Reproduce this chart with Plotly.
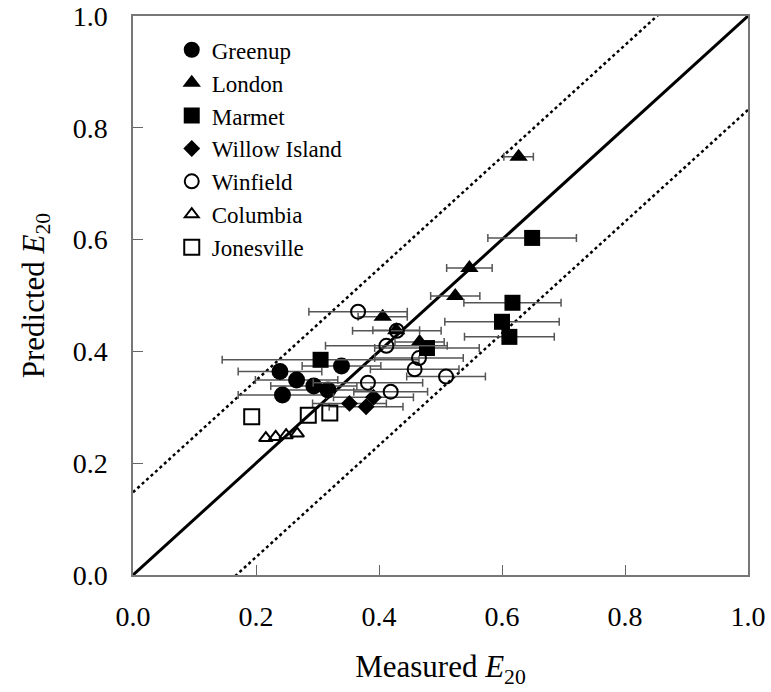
import plotly.graph_objects as go

# ---- data ----
greenup_x = [0.239, 0.266, 0.243, 0.294, 0.317, 0.339]
greenup_y = [0.364, 0.349, 0.322, 0.338, 0.331, 0.374]
greenup_err = [0.068, 0.067, 0.072, 0.070, 0.070, 0.064]

london_x = [0.406, 0.428, 0.466, 0.524, 0.547, 0.627]
london_y = [0.462, 0.438, 0.417, 0.499, 0.549, 0.748]
london_err = [0.040, 0.038, 0.040, 0.040, 0.037, 0.024]

marmet_x = [0.305, 0.478, 0.600, 0.612, 0.617, 0.649]
marmet_y = [0.385, 0.406, 0.453, 0.426, 0.487, 0.603]
marmet_err = [0.160, 0.085, 0.093, 0.073, 0.079, 0.072]

willow_x = [0.352, 0.379, 0.391]
willow_y = [0.307, 0.301, 0.318]
willow_err = [0.060, 0.060, 0.065]

winfield_x = [0.366, 0.429, 0.412, 0.465, 0.458, 0.382, 0.419, 0.509]
winfield_y = [0.471, 0.437, 0.410, 0.388, 0.368, 0.344, 0.328, 0.355]
winfield_err = [0.080, 0.072, 0.099, 0.072, 0.072, 0.089, 0.060, 0.064]

columbia_x = [0.216, 0.232, 0.249, 0.267]
columbia_y = [0.245, 0.247, 0.250, 0.253]

jonesville_x = [0.193, 0.285, 0.320]
jonesville_y = [0.283, 0.286, 0.290]

line_x = [0.0, 1.0]
upper_offset = 0.148
lower_offset = -0.168

tick_vals = [0.0, 0.2, 0.4, 0.6, 0.8, 1.0]
tick_text = ["0.0", "0.2", "0.4", "0.6", "0.8", "1.0"]

FONT = "Liberation Serif"
ERR_COLOR = "#555555"

fig = go.Figure()

# reference lines
fig.add_trace(go.Scatter(x=line_x, y=[v + upper_offset for v in line_x], mode="lines",
                         line=dict(color="black", width=2.5, dash="dot"), showlegend=False, hoverinfo="skip"))
fig.add_trace(go.Scatter(x=line_x, y=[v + lower_offset for v in line_x], mode="lines",
                         line=dict(color="black", width=2.5, dash="dot"), showlegend=False, hoverinfo="skip"))
fig.add_trace(go.Scatter(x=line_x, y=line_x, mode="lines",
                         line=dict(color="black", width=3), showlegend=False, hoverinfo="skip"))


def err(vals):
    return dict(type="data", array=vals, visible=True, color=ERR_COLOR, thickness=1.5, width=4)


series = [
    ("Greenup", greenup_x, greenup_y, greenup_err, "circle", 17, 0),
    ("London", london_x, london_y, london_err, "triangle-up", 16, 0),
    ("Marmet", marmet_x, marmet_y, marmet_err, "square", 16, 0),
    ("Willow Island", willow_x, willow_y, willow_err, "diamond", 13, 0),
    ("Winfield", winfield_x, winfield_y, winfield_err, "circle-open", 14, 2),
    ("Columbia", columbia_x, columbia_y, None, "triangle-up-open", 12, 2),
    ("Jonesville", jonesville_x, jonesville_y, None, "square-open", 15, 2),
]

for name, xs, ys, e, sym, size, lw in series:
    fig.add_trace(go.Scatter(
        x=xs, y=ys, mode="markers", name=name,
        marker=dict(symbol=sym, size=size, color="black", line=dict(color="black", width=lw)),
        error_x=err(e) if e is not None else None,
    ))

axis_common = dict(
    range=[0, 1], tickvals=tick_vals, ticktext=tick_text,
    ticks="inside", ticklen=10, tickwidth=1.2, tickcolor="#666666",
    showline=True, linecolor="#777777", linewidth=1.5, mirror=True,
    showgrid=False, zeroline=False, automargin=False,
    tickfont=dict(family=FONT, size=28, color="black"),
)

fig.update_layout(
    template="none",
    width=771, height=692,
    margin=dict(l=133, r=23, t=16, b=117, autoexpand=False),
    paper_bgcolor="white", plot_bgcolor="white",
    font=dict(family=FONT, color="black", size=23),
    xaxis=dict(**axis_common, ticklabelstandoff=16,
               title=dict(text="Measured <i>E</i><sub>20</sub>", font=dict(family=FONT, size=31), standoff=24)),
    yaxis=dict(**axis_common, ticklabelstandoff=18,
               title=dict(text="Predicted <i>E</i><sub>20</sub>", font=dict(family=FONT, size=31), standoff=19)),
    legend=dict(x=0.063, y=0.978, xanchor="left", yanchor="top", bgcolor="rgba(0,0,0,0)",
                font=dict(family=FONT, size=23, color="black"), itemsizing="trace", tracegroupgap=0),
)

fig.write_html("out.html", config={"displayModeBar": False},
               post_script="document.body.style.margin='0';")
